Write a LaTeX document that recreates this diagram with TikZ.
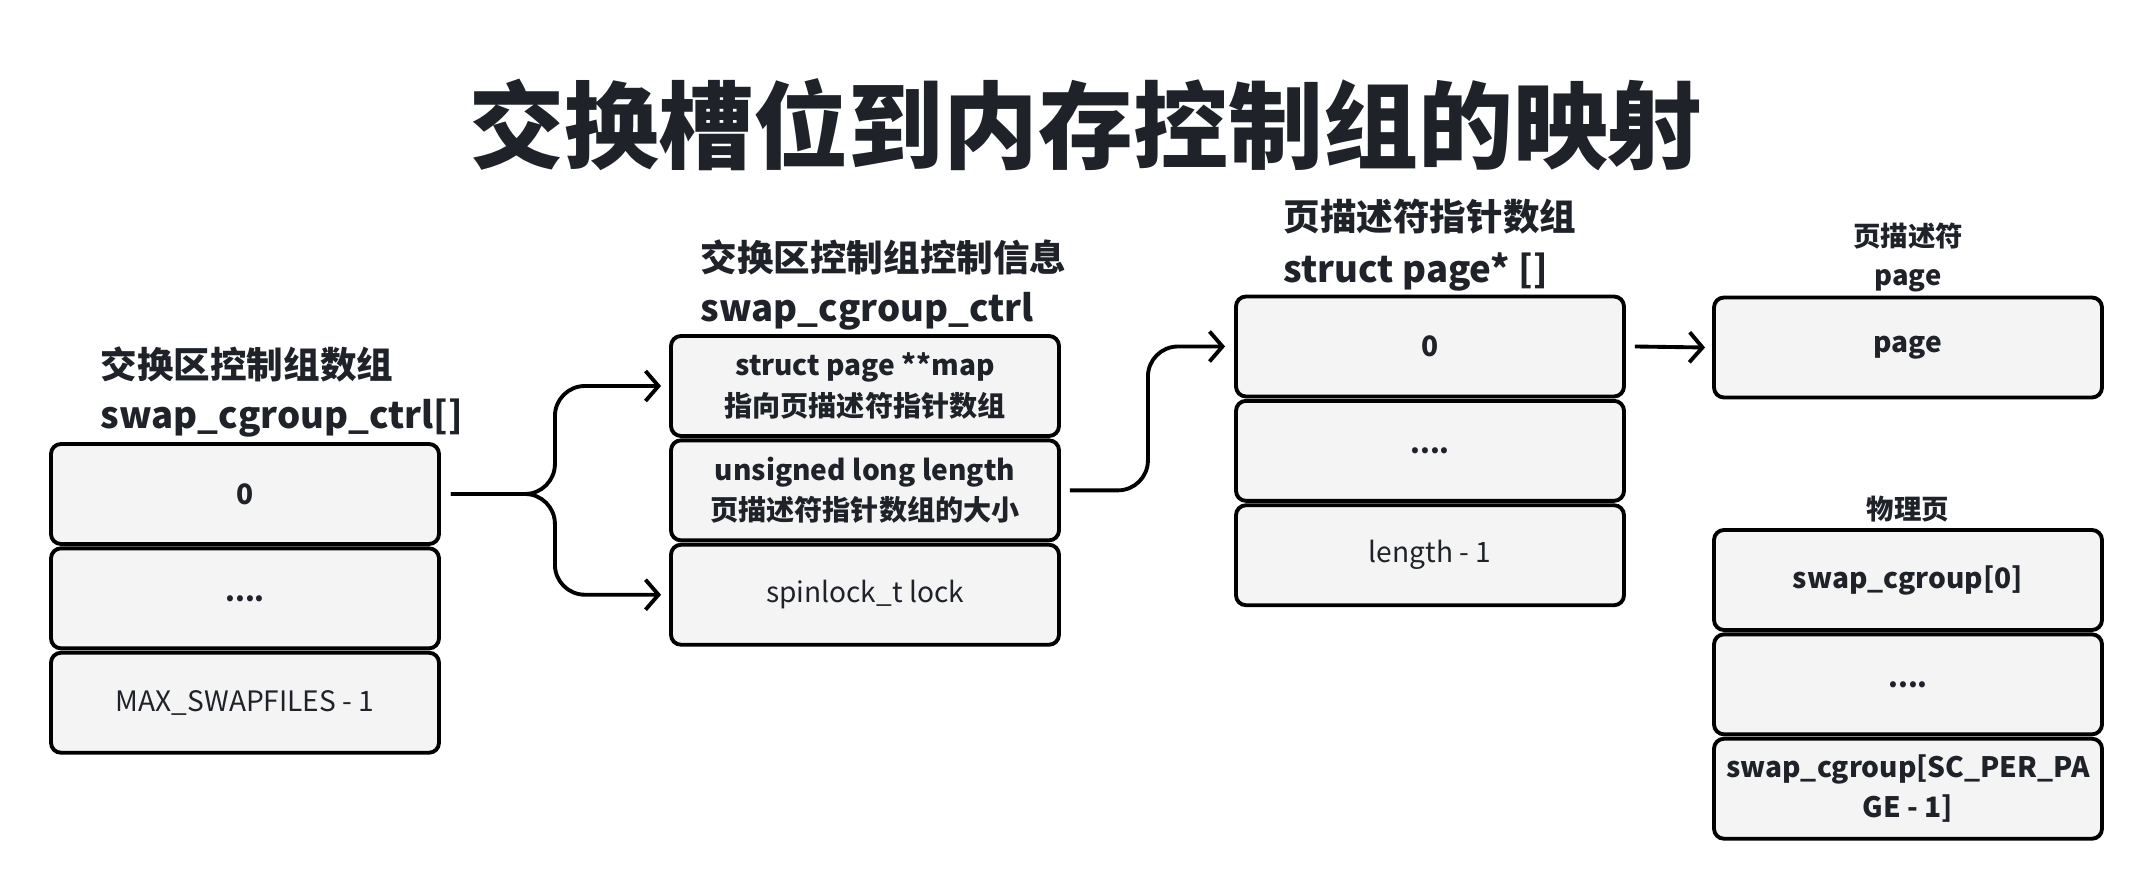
\documentclass[tikz,border=0pt]{standalone}
\usepackage{fontspec}
\setmainfont{Noto Sans CJK SC}
\usepackage{tikz}
\usetikzlibrary{arrows.meta,positioning}

\definecolor{ink}{HTML}{1F2329}
\definecolor{cellfill}{HTML}{F4F4F4}

\tikzset{
  cell/.style={draw=black, fill=cellfill, line width=1.1pt, rounded corners=0.1cm,
    minimum width=3.88cm, minimum height=1.0cm, inner sep=0pt, align=center,
    text=ink, font=\fontsize{8}{11.4}\selectfont},
  boldcell/.style={cell, font=\bfseries\fontsize{8}{11.4}\selectfont},
  head/.style={anchor=base west, inner sep=0pt, text=ink, font=\bfseries\fontsize{10.4}{12}\selectfont},
  subhead/.style={anchor=base, inner sep=0pt, text=ink, font=\bfseries\fontsize{7.8}{10}\selectfont},
  link/.style={line width=1.1pt, rounded corners=0.3cm, -{Straight Barb[length=0.13cm,width=0.3cm]}},
}

\begin{document}
\begin{tikzpicture}[y=-1cm]
\useasboundingbox (0,0) rectangle (21.56,8.90);
\node[anchor=base, inner sep=0pt, text=ink, font=\bfseries\fontsize{27}{30}\selectfont] (title) at (10.86,1.62) {交换槽位到内存控制组的映射};

% swap_cgroup_ctrl[]
\node[head] (ctrlsT) at (1.00,3.79) {交换区控制组数组};
\node[head] (ctrlsL) at (1.00,4.29) {swap\_cgroup\_ctrl[]};
\node[boldcell] (a0) at (2.45,4.94) {0};
\node[boldcell, below=0.005cm of a0] (a1) {....};
\node[cell, below=0.005cm of a1] (a2) {MAX\_SWAPFILES - 1};

% swap_cgroup_ctrl
\node[head] (ctrlT) at (7.00,2.72) {交换区控制组控制信息};
\node[head] (ctrlL) at (7.00,3.22) {swap\_cgroup\_ctrl};
\node[boldcell] (b0) at (8.65,3.86) {struct page **map\\指向页描述符指针数组};
\node[boldcell, below=0.005cm of b0] (b1) {unsigned long length\\页描述符指针数组的大小};
\node[cell, below=0.005cm of b1] (b2) {spinlock\_t lock};

% struct page* []
\node[head] (mapT) at (12.83,2.31) {页描述符指针数组};
\node[head] (mapL) at (12.83,2.83) {struct page* []};
\node[boldcell] (c0) at (14.30,3.465) {0};
\node[boldcell, below=0.005cm of c0] (c1) {....};
\node[cell, below=0.005cm of c1] (c2) {length - 1};

% page
\node[subhead] (pageT) at (19.08,2.47) {页描述符};
\node[subhead] (pageL) at (19.08,2.86) {page};
\node[boldcell] (d0) at (19.08,3.475) {page};

% physical page
\node[subhead] (physT) at (19.08,5.20) {物理页};
\node[boldcell] (e0) at (19.08,5.80) {swap\_cgroup[0]};
\node[boldcell, below=0.005cm of e0] (e1) {....};
\node[boldcell, below=0.005cm of e1] (e2) {swap\_cgroup[SC\_PER\_PA\\GE - 1]};

\draw[link] ([xshift=0.1cm]a0.east) -- ++(1.04,0) |- ([xshift=-0.08cm]b0.west);
\draw[link] ([xshift=0.1cm]a0.east) -- ++(1.04,0) |- ([xshift=-0.08cm]b2.west);
\draw[link] ([xshift=0.09cm]b1.east) -- ++(0.78,0) |- ([xshift=-0.09cm]c0.west);
\draw[link] ([xshift=0.09cm]c0.east) -- ([xshift=-0.07cm]d0.west);
\end{tikzpicture}
\end{document}
